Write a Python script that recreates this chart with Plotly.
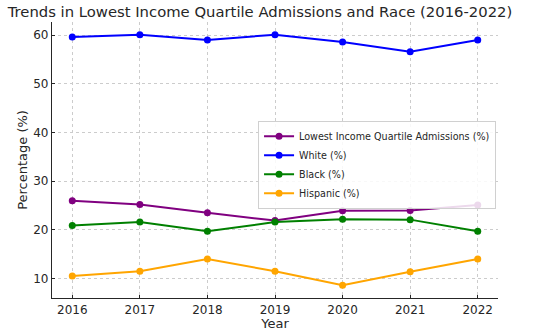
import plotly.graph_objects as go

years = [2016, 2017, 2018, 2019, 2020, 2021, 2022]
lowest_income = [26.0, 25.2, 23.5, 21.9, 23.9, 24.0, 25.1]
white = [59.6, 60.1, 59.0, 60.1, 58.6, 56.6, 59.0]
black = [20.9, 21.6, 19.7, 21.6, 22.2, 22.1, 19.7]
hispanic = [10.5, 11.5, 14.0, 11.5, 8.6, 11.4, 14.0]

series = [
    ("Lowest Income Quartile Admissions (%)", lowest_income, "purple"),
    ("White (%)", white, "blue"),
    ("Black (%)", black, "green"),
    ("Hispanic (%)", hispanic, "orange"),
]

fig = go.Figure()
for name, vals, color in series:
    fig.add_trace(go.Scatter(
        x=years, y=vals, name=name, mode="lines+markers",
        line=dict(color=color, width=2),
        marker=dict(color=color, size=7),
    ))

font = "DejaVu Sans, sans-serif"
fig.update_layout(
    width=550, height=332,
    margin=dict(l=52, r=52, t=22, b=34),
    paper_bgcolor="white", plot_bgcolor="white",
    font=dict(family=font, size=12, color="#262626"),
    title=dict(text="Trends in Lowest Income Quartile Admissions and Race (2016-2022)",
               x=260 / 550, xref="container", xanchor="center",
               y=1 - 12 / 332, yref="container", yanchor="middle",
               font=dict(size=14.8, color="#262626")),
    showlegend=True,
    legend=dict(x=0.462, y=0.642, xanchor="left", yanchor="top",
                bgcolor="rgba(255,255,255,0.85)", bordercolor="#d0d0d0", borderwidth=1,
                font=dict(size=9.6, color="#262626"), tracegroupgap=0,
                itemwidth=30),
)
fig.update_xaxes(
    range=[2015.7, 2022.3], tickmode="array", tickvals=years,
    ticktext=[str(y) for y in years],
    showgrid=True, gridcolor="#cccccc", griddash="dot", gridwidth=1,
    showline=True, linecolor="#262626", linewidth=1.2,
    ticks="inside", ticklen=3, tickcolor="#262626",
    title=dict(text="Year", font=dict(size=13), standoff=2),
    zeroline=False, automargin=False,
)
fig.update_yaxes(
    range=[6.0, 62.7], tickvals=[10, 20, 30, 40, 50, 60],
    showgrid=True, gridcolor="#cccccc", griddash="dot", gridwidth=1,
    showline=True, linecolor="#262626", linewidth=1.2,
    ticks="inside", ticklen=3, tickcolor="#262626",
    title=dict(text="Percentage (%)", font=dict(size=13), standoff=2),
    zeroline=False, automargin=False,
)

# remove the page's default 8px body margin so the figure sits at the window origin
fig.write_html("out.html", config={"displayModeBar": False},
               post_script="document.body.style.margin='0px';")
